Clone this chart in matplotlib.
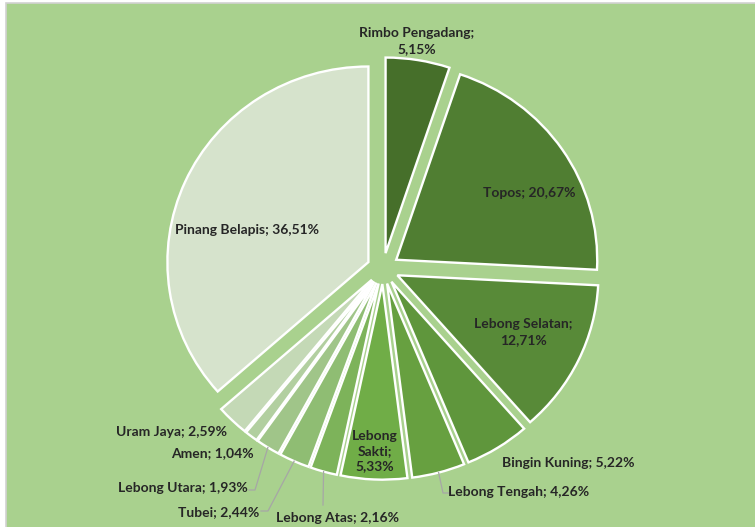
import matplotlib.pyplot as plt
from matplotlib.patches import Rectangle
import numpy as np

# kecamatan shares (%), clockwise from 12 o'clock
names = ['Rimbo Pengadang', 'Topos', 'Lebong Selatan', 'Bingin Kuning',
         'Lebong Tengah', 'Lebong Sakti', 'Lebong Atas', 'Tubei',
         'Lebong Utara', 'Amen', 'Uram Jaya', 'Pinang Belapis']
shares = [5.15, 20.67, 12.71, 5.22, 4.26, 5.33, 2.16, 2.44, 1.93, 1.04, 2.59, 36.51]
colors = ['#466F2A', '#507E32', '#588A38', '#5F963C', '#67A040', '#70AD47',
          '#7DB35A', '#8FBD73', '#A0C589', '#B2CFA0', '#C4D9B6', '#D6E3CC']

W, H = 755, 527
cx, cy, R = 383, 268.5, 201   # image pixel coords (y downward)
gap = 16                      # explode distance
ky = 0.973                    # the original pie is slightly squashed vertically

# label layout: (x, y) in image pixels, line break mode
label_pos = {
    'Rimbo Pengadang': (417, 41, 'two'),
    'Topos': (529, 193, 'one'),
    'Lebong Selatan': (523, 332, 'two'),
    'Bingin Kuning': (568, 463, 'one'),
    'Lebong Tengah': (519, 492, 'one'),
    'Lebong Sakti': (375, 451, 'word'),
    'Lebong Atas': (338, 518, 'one'),
    'Tubei': (219, 512, 'one'),
    'Lebong Utara': (183, 488, 'one'),
    'Amen': (212, 453, 'one'),
    'Uram Jaya': (171, 432, 'one'),
    'Pinang Belapis': (247, 230, 'one'),
}
# leader lines: list of (x, y) image points after the slice edge
leaders = {
    'Lebong Tengah': [(443, 493), (451, 493)],
    'Lebong Atas': [(323, 505)],
    'Tubei': [(268, 511), (261, 511)],
    'Lebong Utara': [(255, 490), (249, 490)],
}


def iy(y):
    return (H - y) / ky


fig = plt.figure(figsize=(W / 100, H / 100), dpi=100)
fig.patch.set_facecolor('white')
ax = fig.add_axes([0, 0, 1, 1])
ax.add_patch(Rectangle((5.5, -10), W, iy(2.5) + 10, facecolor='#A9D18E',
                       edgecolor='#D2D2D2', lw=1.2, zorder=0))

wedges, _ = ax.pie(shares, colors=colors, startangle=90, counterclock=False,
                   explode=[gap] * len(shares), radius=R, center=(cx, iy(cy)),
                   wedgeprops=dict(edgecolor='white', linewidth=1.7))
ax.set_xlim(0, W)
ax.set_ylim(0, H / ky)
ax.set_aspect('auto')
ax.axis('off')

font = dict(family=['Lato', 'DejaVu Sans'], weight='bold', size=10, color='#262626')

for name, val, w in zip(names, shares, wedges):
    pct = f'{val:.2f}'.replace('.', ',') + '%'
    x, y, mode = label_pos[name]
    if mode == 'two':
        txt = name + ';\n' + pct
    elif mode == 'word':
        txt = '\n'.join(name.split()) + ';\n' + pct
    else:
        txt = name + '; ' + pct
    ax.text(x, iy(y), txt, ha='center', va='center', linespacing=1.35, **font)

    if name in leaders:
        th = np.deg2rad((w.theta1 + w.theta2) / 2)
        r = R + gap
        pts = [(cx + r * np.cos(th), iy(cy) + r * np.sin(th))]
        pts += [(px, iy(py)) for px, py in leaders[name]]
        xs, ys = zip(*pts)
        ax.plot(xs, ys, color='#A6A6A6', lw=0.9)

fig.savefig('out.png', dpi=100, facecolor=fig.get_facecolor())
